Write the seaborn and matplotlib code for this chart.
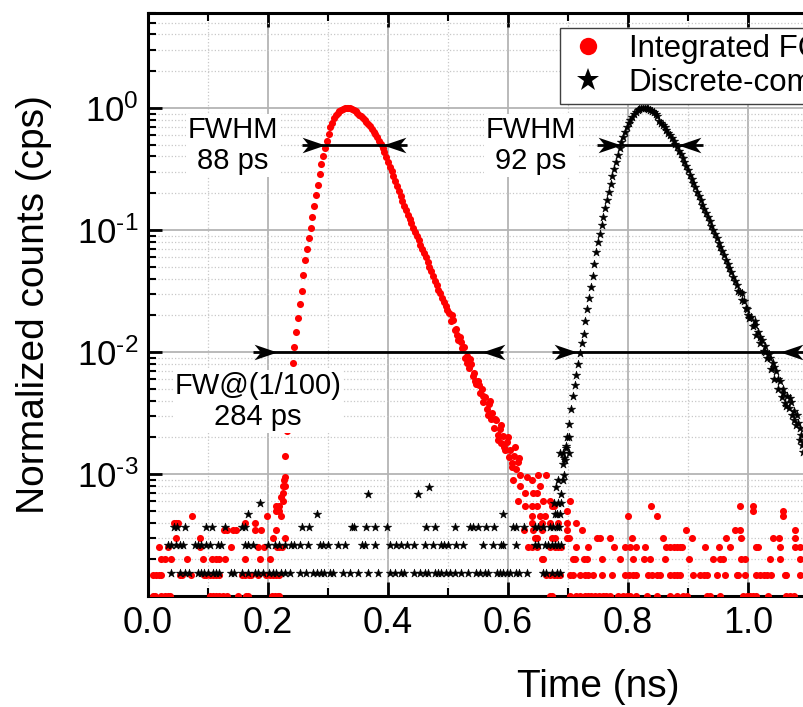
import numpy as np
import pandas as pd
import matplotlib
matplotlib.use("Agg")
import matplotlib.pyplot as plt
import seaborn as sns
from matplotlib.path import Path
from matplotlib.lines import Line2D
from matplotlib.ticker import FixedLocator, FixedFormatter, LogLocator, NullFormatter, MultipleLocator

# ---------------- data ----------------
# Integrated (red) main curve: time (ns) and log10(normalized counts)
red_t = [0.226, 0.229, 0.232, 0.235, 0.238, 0.241, 0.244, 0.247, 0.250, 0.253, 0.256, 0.259, 0.262,
         0.265, 0.268, 0.271, 0.274, 0.277, 0.280, 0.283, 0.286, 0.289, 0.292, 0.295, 0.298, 0.301,
         0.304, 0.307, 0.310, 0.313, 0.316, 0.319, 0.322, 0.325, 0.328, 0.331, 0.334, 0.337, 0.340,
         0.343, 0.346, 0.349, 0.352, 0.355, 0.358, 0.361, 0.364, 0.367, 0.370, 0.373, 0.376, 0.379,
         0.382, 0.385, 0.388, 0.391, 0.394, 0.397, 0.400, 0.403, 0.406, 0.409, 0.412, 0.415, 0.418,
         0.421, 0.424, 0.427, 0.430, 0.433, 0.436, 0.439, 0.442, 0.445, 0.448, 0.451, 0.454, 0.457,
         0.460, 0.463, 0.466, 0.469, 0.472, 0.475, 0.478, 0.481, 0.484, 0.487, 0.490, 0.493, 0.496,
         0.499, 0.502, 0.505, 0.508, 0.511, 0.514, 0.517, 0.520, 0.523, 0.526, 0.529, 0.532, 0.535,
         0.538, 0.541, 0.544, 0.547, 0.550, 0.553, 0.556, 0.559, 0.562, 0.565, 0.568, 0.571, 0.574,
         0.577, 0.580, 0.583, 0.586, 0.589, 0.592, 0.595, 0.598, 0.601, 0.604, 0.607, 0.610, 0.613,
         0.616]
red_log = [-3.05, -2.85, -2.65, -2.45, -2.25, -2.09, -1.96, -1.84, -1.72, -1.61, -1.50, -1.37, -1.25,
           -1.16, -1.07, -0.98, -0.89, -0.80, -0.71, -0.63, -0.54, -0.46, -0.39, -0.33, -0.27, -0.21,
           -0.16, -0.12, -0.085, -0.06, -0.04, -0.025, -0.013, -0.005, -0.001, 0.0, 0.0, -0.002, -0.008,
           -0.016, -0.027, -0.04, -0.055, -0.068, -0.082, -0.098, -0.115, -0.133, -0.152, -0.172, -0.194, -0.217,
           -0.242, -0.268, -0.295, -0.325, -0.36, -0.40, -0.44, -0.48, -0.52, -0.56, -0.60, -0.64, -0.68,
           -0.72, -0.76, -0.80, -0.84, -0.875, -0.91, -0.945, -0.98, -1.015, -1.05, -1.085, -1.12, -1.155,
           -1.19, -1.225, -1.26, -1.30, -1.34, -1.38, -1.42, -1.455, -1.49, -1.52, -1.555, -1.59, -1.625,
           -1.66, -1.68, -1.75, -1.74, -1.82, -1.81, -1.90, -1.88, -1.97, -1.96, -2.05, -2.03, -2.13,
           -2.10, -2.20, -2.17, -2.26, -2.24, -2.34, -2.30, -2.41, -2.37, -2.47, -2.43, -2.55, -2.50,
           -2.62, -2.56, -2.68, -2.63, -2.75, -2.69, -2.80, -2.74, -2.86, -2.80, -2.91, -2.85, -2.96,
           -2.90]
# extra scattered red points in the decaying tail (time, log10)
red_spread_t = [0.507, 0.515, 0.522, 0.531, 0.537, 0.545, 0.552, 0.558, 0.566, 0.570, 0.578, 0.584,
                0.588, 0.593, 0.600, 0.606, 0.611, 0.618]
red_spread_log = [-1.70, -1.86, -1.92, -2.09, -2.06, -2.24, -2.27, -2.36, -2.52, -2.40, -2.55, -2.72,
                  -2.60, -2.78, -2.70, -2.94, -2.78, -2.87]
# red points near the foot of the pulse (time, normalized counts)
red_foot_t = [0.214, 0.219, 0.222, 0.225, 0.225, 0.225, 0.228, 0.228, 0.609, 0.617, 0.620, 0.620,
              0.628, 0.631, 0.640, 0.642, 0.648, 0.650, 0.653, 0.659, 0.664, 0.670, 0.676, 0.703]
red_foot_v = [5.45e-4, 5.45e-4, 6.45e-4, 5.95e-4, 6.95e-4, 7.9e-4, 7.9e-4, 9.4e-4, 8.9e-4, 5.95e-4,
              9.9e-4, 7.9e-4, 6.95e-4, 9.4e-4, 8.9e-4, 6.95e-4, 6.95e-4, 9.9e-4, 7.9e-4, 5.95e-4,
              9.9e-4, 5.95e-4, 5.45e-4, 5.95e-4]
# red background counts, one list of times per count level
red_levels = [1.0e-4, 1.5e-4, 2.0e-4, 2.5e-4, 3.0e-4, 3.5e-4, 4.0e-4, 4.5e-4, 5.0e-4, 5.45e-4]
red_t_100 = [0.008, 0.011, 0.022, 0.028, 0.033, 0.036, 0.103, 0.108, 0.114, 0.119, 0.125, 0.131, 0.150,
             0.164, 0.167, 0.206, 0.211, 0.217, 0.219, 0.670, 0.673, 0.703, 0.714, 0.720, 0.728, 0.734,
             0.739, 0.745, 0.751, 0.759, 0.764, 0.770, 0.784, 0.792, 0.798, 0.803, 0.814, 0.831, 0.848,
             0.870, 0.881, 0.892, 0.898, 0.931, 0.937, 0.953, 0.992, 0.998, 1.003, 1.009, 1.014, 1.034,
             1.064, 1.070, 1.076]
red_t_150 = [0.008, 0.014, 0.019, 0.022, 0.053, 0.056, 0.072, 0.094, 0.097, 0.103, 0.108, 0.114, 0.119,
             0.156, 0.161, 0.169, 0.172, 0.183, 0.197, 0.203, 0.208, 0.214, 0.219, 0.664, 0.670, 0.676,
             0.681, 0.687, 0.703, 0.709, 0.720, 0.728, 0.734, 0.742, 0.756, 0.773, 0.795, 0.801, 0.809,
             0.814, 0.834, 0.840, 0.848, 0.853, 0.870, 0.876, 0.881, 0.887, 0.909, 0.920, 0.926, 0.931,
             0.948, 0.962, 0.981, 0.984, 0.995, 1.014, 1.020, 1.026, 1.031, 1.039, 1.062, 1.064, 1.087]
red_t_200 = [0.022, 0.028, 0.039, 0.065, 0.092, 0.107, 0.114, 0.119, 0.129, 0.161, 0.186, 0.204, 0.656,
             0.659, 0.709, 0.712, 0.726, 0.731, 0.756, 0.787, 0.809, 0.826, 0.837, 0.862, 0.901, 0.942,
             0.953, 0.959, 0.989, 0.995, 1.037, 1.053, 1.087]
red_t_250 = [0.018, 0.033, 0.086, 0.139, 0.183, 0.194, 0.215, 0.219, 0.223, 0.634, 0.640, 0.648, 0.670,
             0.678, 0.684, 0.689, 0.714, 0.734, 0.776, 0.795, 0.803, 0.814, 0.828, 0.864, 0.870, 0.876,
             0.881, 0.887, 0.890, 0.928, 0.951, 0.970, 1.014, 1.017, 1.053, 1.078, 1.087]
red_t_300 = [0.047, 0.086, 0.208, 0.228, 0.645, 0.648, 0.673, 0.678, 0.698, 0.701, 0.748, 0.753, 0.770,
             0.807, 0.859, 0.906, 0.964, 0.988, 1.042, 1.051, 1.078]
red_t_350 = [0.127, 0.131, 0.142, 0.147, 0.179, 0.189, 0.213, 0.626, 0.642, 0.656, 0.698, 0.723, 0.897,
             0.978, 0.986, 1.078]
red_t_400 = [0.043, 0.047, 0.050, 0.161, 0.179, 0.640, 0.656, 0.670, 0.684, 0.698, 0.714]
red_t_450 = [0.073, 0.199, 0.221, 0.640, 0.653, 0.662, 0.800, 0.848, 1.059]
red_t_500 = [0.213, 0.219, 0.698, 1.009, 1.059]
red_t_545 = [0.628, 0.640, 0.648, 0.673, 0.838, 0.987, 1.009]

# Discrete-component (black) main curve: time (ns) and log10(normalized counts)
blk_t = [0.693, 0.696, 0.699, 0.702, 0.705, 0.708, 0.711, 0.714, 0.717, 0.720, 0.723, 0.726, 0.729,
         0.732, 0.735, 0.738, 0.741, 0.744, 0.747, 0.750, 0.753, 0.756, 0.759, 0.762, 0.765, 0.768,
         0.771, 0.774, 0.777, 0.780, 0.783, 0.786, 0.789, 0.792, 0.795, 0.798, 0.801, 0.804, 0.807,
         0.810, 0.813, 0.816, 0.819, 0.822, 0.825, 0.828, 0.831, 0.834, 0.837, 0.840, 0.843, 0.846,
         0.849, 0.852, 0.855, 0.858, 0.861, 0.864, 0.867, 0.870, 0.873, 0.876, 0.879, 0.882, 0.885,
         0.888, 0.891, 0.894, 0.897, 0.900, 0.903, 0.906, 0.909, 0.912, 0.915, 0.918, 0.921, 0.924,
         0.927, 0.930, 0.933, 0.936, 0.939, 0.942, 0.945, 0.948, 0.951, 0.954, 0.957, 0.960, 0.963,
         0.966, 0.969, 0.972, 0.975, 0.978, 0.981, 0.984, 0.987, 0.990, 0.993, 0.996, 0.999, 1.002,
         1.005, 1.008, 1.011, 1.014, 1.017, 1.020, 1.023, 1.026, 1.029, 1.032, 1.035, 1.038, 1.041,
         1.044, 1.047, 1.050, 1.053, 1.056, 1.059, 1.062, 1.065, 1.068, 1.071, 1.074, 1.077, 1.080,
         1.083, 1.086, 1.089, 1.092]
blk_log = [-2.87, -2.79, -2.70, -2.59, -2.47, -2.36, -2.27, -2.19, -2.10, -2.01, -1.93, -1.85, -1.75,
           -1.65, -1.56, -1.47, -1.38, -1.28, -1.18, -1.10, -1.03, -0.96, -0.89, -0.82, -0.755, -0.69,
           -0.625, -0.56, -0.50, -0.44, -0.385, -0.33, -0.28, -0.235, -0.195, -0.158, -0.125, -0.097, -0.072,
           -0.051, -0.034, -0.02, -0.01, -0.004, 0.0, 0.0, -0.002, -0.007, -0.014, -0.023, -0.034, -0.048,
           -0.065, -0.105, -0.122, -0.14, -0.16, -0.18, -0.202, -0.225, -0.248, -0.272, -0.297, -0.322, -0.35,
           -0.38, -0.41, -0.443, -0.477, -0.512, -0.547, -0.582, -0.617, -0.652, -0.687, -0.722, -0.757, -0.792,
           -0.827, -0.86, -0.895, -0.93, -0.965, -1.0, -1.035, -1.068, -1.103, -1.138, -1.173, -1.208, -1.243,
           -1.278, -1.313, -1.348, -1.383, -1.418, -1.45, -1.50, -1.51, -1.57, -1.58, -1.64, -1.65, -1.72,
           -1.71, -1.79, -1.78, -1.86, -1.84, -1.93, -1.90, -1.99, -1.95, -2.05, -2.02, -2.14, -2.09,
           -2.22, -2.16, -2.30, -2.24, -2.37, -2.30, -2.42, -2.36, -2.46, -2.41, -2.52, -2.48, -2.60,
           -2.58, -2.72, -2.68, -2.82]
blk_spread_t = [0.990, 1.000, 1.012, 1.020, 1.028, 1.036, 1.043, 1.050, 1.058, 1.064, 1.070, 1.076,
                1.082, 1.087, 1.090]
blk_spread_log = [-1.52, -1.70, -1.75, -1.88, -2.00, -2.05, -2.12, -2.22, -2.34, -2.44, -2.38, -2.56,
                  -2.52, -2.62, -2.76]
# black points at the foot of the rising edge (time, normalized counts)
blk_foot_t = [0.684, 0.691, 0.693, 0.692, 0.695, 0.687, 0.692, 0.701, 0.697, 0.702]
blk_foot_v = [8.85e-4, 8.85e-4, 9.9e-4, 1.2e-3, 1.3e-3, 1.5e-3, 1.5e-3, 1.5e-3, 1.7e-3, 2.0e-3]
# black background counts, one list of times per count level
blk_levels = [1.55e-4, 2.6e-4, 3.65e-4, 4.7e-4, 5.75e-4, 6.8e-4, 7.8e-4]
blk_t_155 = [0.038, 0.054, 0.062, 0.069, 0.083, 0.089, 0.094, 0.100, 0.108, 0.114, 0.119, 0.139, 0.144,
             0.156, 0.167, 0.178, 0.183, 0.192, 0.201, 0.208, 0.214, 0.221, 0.228, 0.236, 0.253, 0.264,
             0.275, 0.281, 0.288, 0.294, 0.303, 0.308, 0.325, 0.336, 0.350, 0.367, 0.383, 0.403, 0.411,
             0.422, 0.427, 0.444, 0.453, 0.461, 0.467, 0.478, 0.483, 0.489, 0.497, 0.503, 0.511, 0.522,
             0.533, 0.547, 0.553, 0.562, 0.567, 0.581, 0.587, 0.592, 0.598, 0.603, 0.614, 0.619, 0.632,
             0.659, 0.664, 0.673, 0.681, 0.687]
blk_t_260 = [0.033, 0.039, 0.047, 0.054, 0.058, 0.078, 0.083, 0.089, 0.097, 0.103, 0.117, 0.122, 0.161,
             0.167, 0.175, 0.200, 0.211, 0.219, 0.228, 0.239, 0.244, 0.253, 0.267, 0.286, 0.292, 0.300,
             0.317, 0.328, 0.356, 0.361, 0.378, 0.403, 0.414, 0.422, 0.431, 0.444, 0.461, 0.475, 0.489,
             0.494, 0.500, 0.514, 0.525, 0.559, 0.575, 0.589, 0.592, 0.613, 0.645, 0.650, 0.662, 0.667,
             0.673, 0.678, 0.684, 0.689]
blk_t_365 = [0.043, 0.049, 0.062, 0.096, 0.106, 0.128, 0.156, 0.161, 0.256, 0.269, 0.340, 0.344, 0.364,
             0.378, 0.399, 0.464, 0.478, 0.511, 0.536, 0.542, 0.550, 0.564, 0.577, 0.609, 0.614, 0.626,
             0.645, 0.650, 0.659, 0.670, 0.675, 0.682, 0.685]
blk_t_470 = [0.167, 0.281, 0.591, 0.679, 0.682, 0.686]
blk_t_575 = [0.186, 0.676, 0.683, 0.688]
blk_t_680 = [0.367, 0.450, 0.688]
blk_t_780 = [0.469, 0.680]

# annotation arrows (level, left tail, left tip, right tip, right tail) in ns
arrow_level = [0.5, 0.5, 0.01, 0.01]
arrow_left_tail = [0.2567, 0.748, 0.1755, 0.6728]
arrow_left_tip = [0.295, 0.789, 0.2145, 0.7145]
arrow_right_tip = [0.392, 0.884, 0.556, 1.0533]
arrow_right_tail = [0.431, 0.9256, 0.592, 1.095]
label_text = ["FWHM\n88 ps", "FWHM\n92 ps", "FW@(1/100)\n284 ps"]
label_x = [0.1417, 0.638, 0.1833]
label_y = [0.493, 0.493, 3.93e-3]

y_tick_values = [1e-3, 1e-2, 1e-1, 1.0]
y_tick_labels = [r"$\mathregular{10^{‐3}}$", r"$\mathregular{10^{‐2}}$",
                 r"$\mathregular{10^{‐1}}$", r"$\mathregular{10^{0}}$"]

series_names = ["Integrated FC", "Discrete-component"]

# ---------------- build tables ----------------
red_df = pd.concat([
    pd.DataFrame({"t": red_t, "v": np.power(10.0, red_log)}),
    pd.DataFrame({"t": red_spread_t, "v": np.power(10.0, red_spread_log)}),
    pd.DataFrame({"t": red_foot_t, "v": red_foot_v}),
] + [pd.DataFrame({"t": ts, "v": lv}) for ts, lv in zip(
    [red_t_100, red_t_150, red_t_200, red_t_250, red_t_300, red_t_350, red_t_400, red_t_450,
     red_t_500, red_t_545], red_levels)], ignore_index=True)

blk_df = pd.concat([
    pd.DataFrame({"t": blk_t, "v": np.power(10.0, blk_log)}),
    pd.DataFrame({"t": blk_spread_t, "v": np.power(10.0, blk_spread_log)}),
    pd.DataFrame({"t": blk_foot_t, "v": blk_foot_v}),
] + [pd.DataFrame({"t": ts, "v": lv}) for ts, lv in zip(
    [blk_t_155, blk_t_260, blk_t_365, blk_t_470, blk_t_575, blk_t_680, blk_t_780], blk_levels)],
    ignore_index=True)

# ---------------- style ----------------
sns.set_style("ticks")
plt.rcParams["font.family"] = ["Liberation Sans", "DejaVu Sans"]
plt.rcParams["mathtext.fontset"] = "custom"
plt.rcParams["mathtext.rm"] = "Liberation Sans"
plt.rcParams["mathtext.it"] = "Liberation Sans:italic"
plt.rcParams["mathtext.bf"] = "Liberation Sans:bold"
for key in ["text.color", "axes.labelcolor", "xtick.color", "ytick.color",
            "xtick.labelcolor", "ytick.labelcolor"]:
    plt.rcParams[key] = "black"

fig = plt.figure(figsize=(8.04, 7.07), dpi=100)
ax = fig.add_axes([148 / 804, 111 / 707, 900 / 804, 583 / 707])

ax.set_yscale("log")
sns.scatterplot(data=red_df, x="t", y="v", color="#ff0000", marker="o", s=26, linewidth=0,
                ax=ax, zorder=3, legend=False)
sns.scatterplot(data=blk_df, x="t", y="v", color="black", marker="*", s=40, linewidth=0.4,
                edgecolor="black", ax=ax, zorder=3.5, legend=False)

ax.set_xlim(0, 1.5)
ax.set_ylim(1.0e-4, 6.0)

# ticks
ax.xaxis.set_major_locator(MultipleLocator(0.2))
ax.xaxis.set_minor_locator(MultipleLocator(0.1))
ax.xaxis.set_major_formatter(matplotlib.ticker.FormatStrFormatter("%.1f"))
ax.yaxis.set_major_locator(FixedLocator(y_tick_values))
ax.yaxis.set_major_formatter(FixedFormatter(y_tick_labels))
ax.yaxis.set_minor_locator(LogLocator(base=10, subs=np.arange(2, 10), numticks=20))
ax.yaxis.set_minor_formatter(NullFormatter())

ax.tick_params(which="major", direction="in", length=10, width=2, top=True, right=True,
               colors="black")
ax.tick_params(which="minor", direction="in", length=6, width=1.5, top=True, right=True,
               colors="black")
ax.tick_params(axis="x", which="major", labelsize=26, pad=7)
ax.tick_params(axis="y", which="major", labelsize=25, pad=7)

for sp in ax.spines.values():
    sp.set_linewidth(2.2)
    sp.set_color("black")

ax.grid(which="major", color="#b4b4b4", lw=1.3, ls="-", zorder=0)
ax.grid(which="minor", color="#c8c8c8", lw=0.9, ls=":", zorder=0)
ax.set_axisbelow(True)

ax.set_xlabel("Time (ns)", fontsize=28, color="black")
ax.set_ylabel("Normalized counts (cps)", fontsize=28, color="black")
ax.xaxis.set_label_coords(0.5, -0.125)
ax.yaxis.set_label_coords(-0.1067, 0.5)

# arrows
head_r = Path([(0, 0), (-1, 0.34), (-0.72, 0), (-1, -0.34), (0, 0)],
              [Path.MOVETO, Path.LINETO, Path.LINETO, Path.LINETO, Path.CLOSEPOLY])
head_l = Path([(0, 0), (1, 0.34), (0.72, 0), (1, -0.34), (0, 0)],
              [Path.MOVETO, Path.LINETO, Path.LINETO, Path.LINETO, Path.CLOSEPOLY])
for lv, lt, ltip, rtip, rt in zip(arrow_level, arrow_left_tail, arrow_left_tip,
                                  arrow_right_tip, arrow_right_tail):
    ax.plot([lt, rt], [lv, lv], color="black", lw=2.0, zorder=4, solid_capstyle="butt")
    ax.plot([ltip], [lv], marker=head_r, ms=33, color="black", mew=0, ls="none", zorder=4)
    ax.plot([rtip], [lv], marker=head_l, ms=33, color="black", mew=0, ls="none", zorder=4)

for txt, tx, ty in zip(label_text, label_x, label_y):
    ax.text(tx, ty, txt, ha="center", va="center", multialignment="center", fontsize=21,
            color="black", zorder=5, linespacing=1.15,
            bbox=dict(facecolor="white", edgecolor="none", pad=1.5))

handles = [Line2D([], [], marker="o", color="#ff0000", ls="none", ms=12.5, mew=0),
           Line2D([], [], marker="*", color="black", ls="none", ms=17, mew=0)]
leg = ax.legend(handles, series_names, loc="upper left", bbox_to_anchor=(0.4578, 0.974),
                borderaxespad=0, fontsize=22.5, frameon=True, fancybox=False,
                edgecolor="#404040", framealpha=1, borderpad=0.2, labelspacing=0.12,
                handlelength=1.4, handletextpad=0.6)
leg.get_frame().set_linewidth(1.0)
leg.set_zorder(6)
for t in leg.get_texts():
    t.set_color("black")

fig.savefig("out.png", dpi=100)
